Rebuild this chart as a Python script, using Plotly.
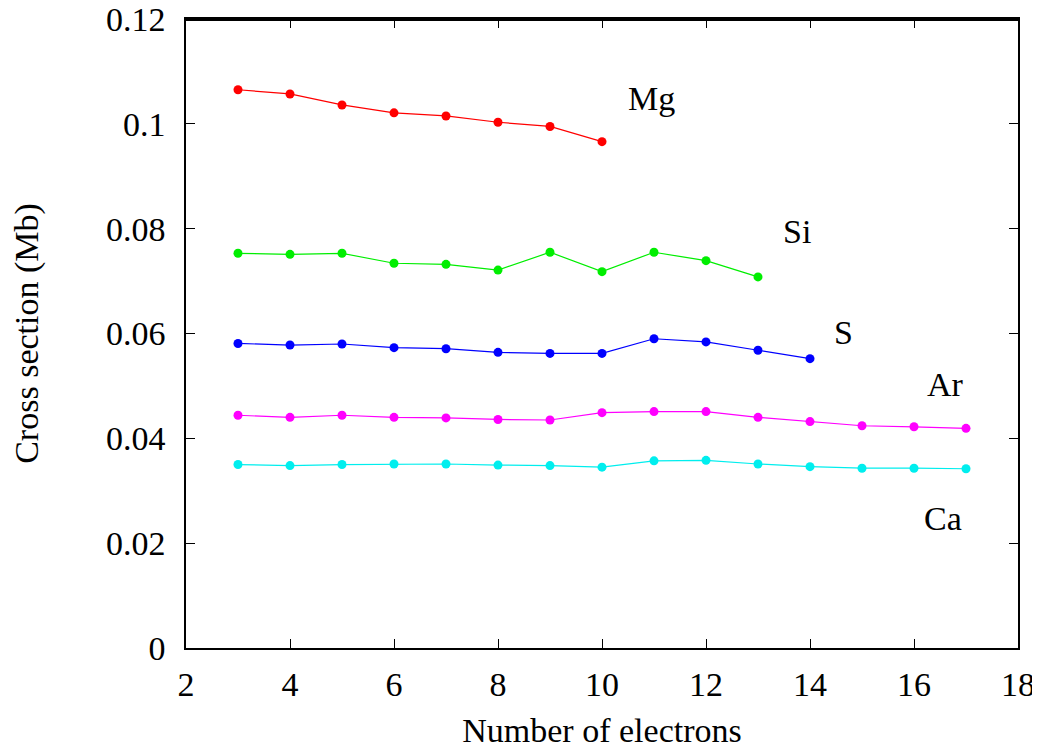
import plotly.graph_objects as go

electrons = list(range(3, 18))

mg = [0.1065, 0.1057, 0.1036, 0.1021, 0.1015, 0.1003, 0.0995, 0.0966]
si = [0.0753, 0.0751, 0.0753, 0.0734, 0.0732, 0.0721, 0.0755, 0.0718, 0.0755, 0.0739, 0.0708]
s = [0.0581, 0.0578, 0.0580, 0.0573, 0.0571, 0.0564, 0.0562, 0.0562, 0.0590, 0.0584, 0.0568, 0.0552]
ar = [0.0444, 0.0440, 0.0444, 0.0440, 0.0439, 0.0436, 0.0435, 0.0449, 0.0451, 0.0451, 0.0440, 0.0432, 0.0424, 0.0422, 0.0419]
ca = [0.0350, 0.0348, 0.0350, 0.0351, 0.0351, 0.0349, 0.0348, 0.0345, 0.0357, 0.0358, 0.0351, 0.0346, 0.0343, 0.0343, 0.0342]

series = [
    ("Mg", mg, "#ff0000"),
    ("Si", si, "#00ee00"),
    ("S", s, "#0000ff"),
    ("Ar", ar, "#ff00ff"),
    ("Ca", ca, "#00eeee"),
]

label_names = ["Mg", "Si", "S", "Ar", "Ca"]
label_x = [10.95, 13.75, 14.65, 16.6, 16.55]
label_y = [0.1048, 0.0795, 0.0601, 0.0502, 0.0248]

x_ticks = [2, 4, 6, 8, 10, 12, 14, 16, 18]
y_ticks = [0, 0.02, 0.04, 0.06, 0.08, 0.1, 0.12]
y_tick_text = ["0", "0.02", "0.04", "0.06", "0.08", "0.1", "0.12"]

font_family = "Liberation Serif, Times New Roman, serif"

fig = go.Figure()
for name, vals, color in series:
    fig.add_trace(go.Scatter(
        x=electrons[:len(vals)], y=vals, mode="lines+markers", name=name,
        line=dict(color=color, width=1.2),
        marker=dict(color=color, size=9),
        showlegend=False,
    ))

for name, lx, ly in zip(label_names, label_x, label_y):
    fig.add_annotation(x=lx, y=ly, text=name, showarrow=False,
                       font=dict(family=font_family, size=34, color="black"))

# plot frame (top edge drawn slightly inside so it stays visible)
fig.add_shape(type="line", xref="paper", yref="paper", x0=0, x1=1, y0=0.9985, y1=0.9985,
              line=dict(color="black", width=2), layer="above")

fig.update_layout(
    width=1040, height=751,
    margin=dict(l=178, r=30, t=11, b=111),
    paper_bgcolor="white", plot_bgcolor="white",
    font=dict(family=font_family, size=34, color="black"),
    modebar=dict(bgcolor="rgba(0,0,0,0)"),
)
fig.update_xaxes(
    range=[2, 18], tickvals=x_ticks, ticktext=[str(v) for v in x_ticks],
    showline=True, mirror="ticks", linecolor="black", linewidth=1.5,
    ticks="inside", ticklen=9, tickwidth=1.2, tickcolor="black",
    showgrid=False, zeroline=False, automargin=False,
    ticklabelstandoff=5, ticklabeloverflow="allow",
    title=dict(text="Number of electrons", font=dict(size=34), standoff=17),
)
fig.update_yaxes(
    range=[0, 0.12], tickvals=y_ticks, ticktext=y_tick_text,
    showline=True, mirror="ticks", linecolor="black", linewidth=1.5,
    ticks="inside", ticklen=9, tickwidth=1.2, tickcolor="black",
    showgrid=False, zeroline=False, automargin=False,
    ticklabelstandoff=12, ticklabeloverflow="allow",
    title=dict(text="Cross section (Mb)", font=dict(size=34), standoff=57),
)

fig.write_html("out.html", config={"displayModeBar": False})
